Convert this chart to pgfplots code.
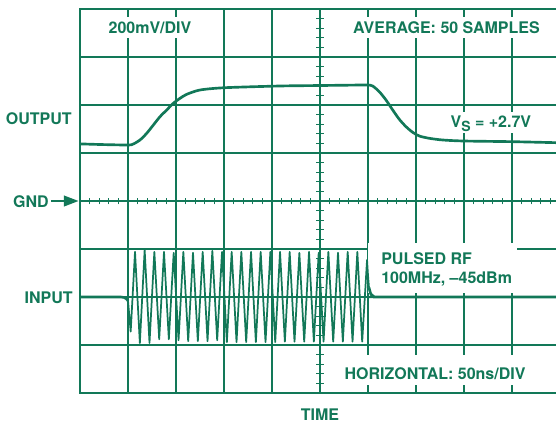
\documentclass[border=0pt]{standalone}
\usepackage{fontspec}
\setmainfont{TeX Gyre Heros}
\usepackage{pgfplots}
\pgfplotsset{compat=1.18}
\usetikzlibrary{arrows.meta}
\definecolor{adg}{RGB}{18,120,88}
\begin{document}
\begin{tikzpicture}[font=\fontsize{12}{14}\selectfont\bfseries,
  lab/.style={text=adg, inner sep=0pt},
  boxlab/.style={text=adg, fill=white, inner xsep=3pt, inner ysep=3.5pt, text height=8.8pt, text depth=0pt}]
\useasboundingbox (-60pt,-165.75pt) rectangle (357pt,150.75pt);
\clip (-60pt,-165.75pt) rectangle (357pt,150.75pt);
\begin{axis}[
  anchor=origin, at={(0pt,0pt)},
  x=36pt, y=36pt,
  xmin=0, xmax=10, ymin=-4, ymax=4,
  xtick={0,...,10}, ytick={-4,...,4},
  xticklabels={}, yticklabels={},
  major tick length=0pt,
  tick style={draw=none},
  grid=major,
  grid style={adg, line width=0.9pt},
  axis line style={adg, line width=1.4pt},
  clip=false,
]
% label backgrounds and labels (under the traces)
\node[boxlab, anchor=base] at (axis cs:1.458,3.494) {200mV/DIV};
\node[boxlab, anchor=base] at (axis cs:7.635,3.5) {AVERAGE: 50 SAMPLES};
\node[boxlab, anchor=base west, inner xsep=2pt] at (axis cs:7.66,1.521) {V\raisebox{-2.6pt}{\fontsize{10.5}{11}\selectfont S} = +2.7V};
\fill[white] (axis cs:6.0,-0.875) rectangle (axis cs:9.104,-1.917);
\node[lab, anchor=base west] at (axis cs:6.271,-1.333) {PULSED RF};
\node[lab, anchor=base west] at (axis cs:6.271,-1.729) {100MHz, –45dBm};
\fill[white] (axis cs:5.375,-3.208) rectangle (axis cs:9.417,-3.833);
\node[lab, anchor=base] at (axis cs:7.396,-3.715) {HORIZONTAL: 50ns/DIV};
\node[lab, anchor=base east] at (axis cs:-0.167,1.604) {OUTPUT};
\node[lab, anchor=base east] at (axis cs:-0.646,-0.125) {GND};
\node[lab, anchor=base east] at (axis cs:-0.146,-2.125) {INPUT};
\node[lab, anchor=base] at (axis cs:5,-4.5625) {TIME};
\draw[adg, line width=1.4pt, -{Triangle[length=11pt,width=8pt]}] (axis cs:-0.6,0) -- (axis cs:-0.03,0);

% OUTPUT trace
\addplot[adg, line width=2pt, smooth, tension=0.45] coordinates {
(0,1.19) (0.5,1.175) (1.007,1.167) (1.111,1.188) (1.25,1.271) (1.389,1.41)
(1.528,1.583) (1.667,1.757) (1.806,1.896) (1.944,2.035) (2.083,2.139)
(2.222,2.222) (2.5,2.3125) (3.007,2.36) (4.17,2.396) (5.0,2.406) (5.9,2.417)
(6.0,2.417) (6.097,2.396) (6.235,2.277) (6.375,2.104) (6.515,1.896)
(6.652,1.702) (6.792,1.548) (6.931,1.431) (7.069,1.354) (7.278,1.306)
(7.556,1.271) (7.994,1.25) (9.0,1.236) (9.917,1.215)
};

% INPUT baseline before burst
\addplot[adg, line width=2pt, line join=round] coordinates {
(0,-2.0) (0.85,-2.0) (0.92,-2.01) (0.97,-2.04) (1.0,-2.08)
};
% INPUT burst (100 MHz)
\addplot[adg, line width=1.3pt, line join=round, line cap=round] coordinates {
(1.0,-2.08) (1.056,-2.72)
(1.146,-1.06) (1.247,-2.96) (1.347,-1.02) (1.448,-2.96) (1.549,-1.06) (1.650,-2.88)
(1.750,-1.06) (1.851,-2.88) (1.952,-1.08) (2.053,-2.90) (2.153,-1.06) (2.254,-2.92)
(2.354,-1.08) (2.455,-2.92) (2.556,-1.06) (2.657,-2.92) (2.757,-1.04) (2.858,-2.90)
(2.959,-1.06) (3.060,-2.94) (3.160,-1.06) (3.261,-2.94) (3.361,-1.06) (3.462,-2.94)
(3.563,-1.06) (3.664,-2.94) (3.764,-1.06) (3.865,-2.94) (3.966,-1.06) (4.067,-2.94)
(4.167,-1.06) (4.268,-2.93) (4.368,-1.06) (4.469,-2.93) (4.570,-1.08) (4.671,-2.93)
(4.771,-1.06) (4.872,-2.93) (4.973,-1.08) (5.074,-2.93) (5.174,-1.06) (5.275,-2.93)
(5.375,-1.08) (5.476,-2.93) (5.577,-1.06) (5.678,-2.93) (5.778,-1.06) (5.879,-2.93)
(5.980,-1.23) (6.0,-1.55) (6.02,-1.8)
};
% INPUT baseline after burst
\addplot[adg, line width=2pt, smooth, tension=0.5] coordinates {
(6.02,-1.8) (6.06,-1.94) (6.12,-1.99) (6.25,-2.0) (8.0,-2.0) (10,-2.0)
};
\end{axis}
% minor ticks on the centre lines
\foreach \a in {0,...,9} \foreach \b in {1,2,3,4}
  \draw[adg, line width=0.9pt] ({(\a*5+\b)*7.2pt},-2.5pt) -- ({(\a*5+\b)*7.2pt},2.5pt);
\foreach \a in {-4,...,3} \foreach \b in {1,2,3,4}
  \draw[adg, line width=0.9pt] (177.2pt,{(\a*5+\b)*7.2pt}) -- (182.8pt,{(\a*5+\b)*7.2pt});
\end{tikzpicture}
\end{document}
